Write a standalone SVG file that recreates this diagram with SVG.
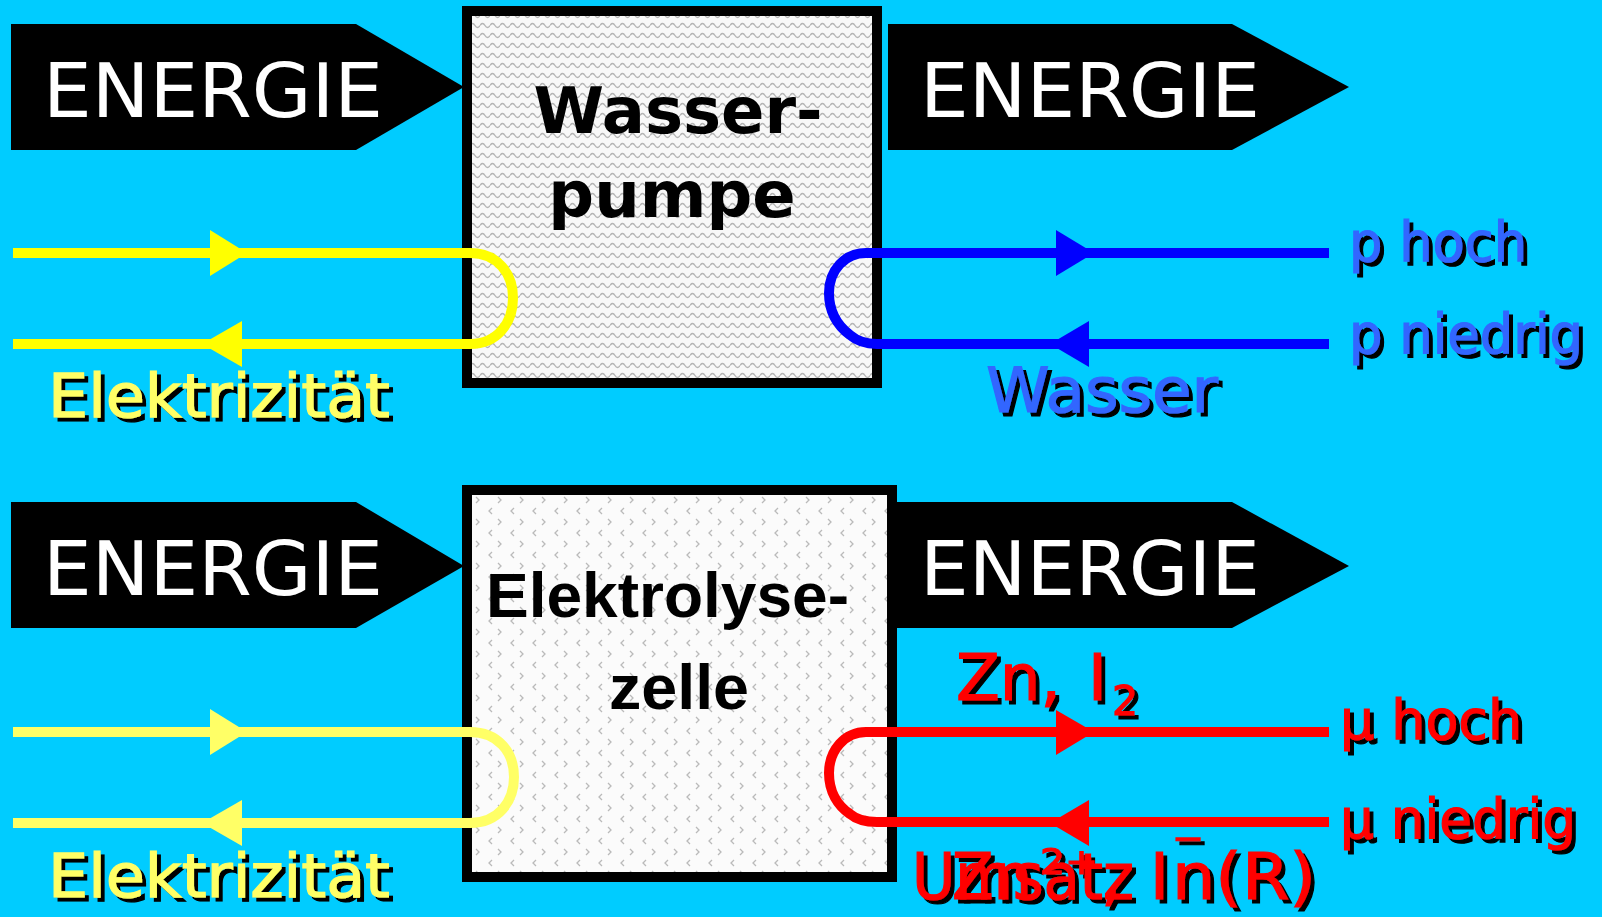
<svg xmlns="http://www.w3.org/2000/svg" width="1602" height="917" viewBox="0 0 1602 917">
<style>
.bg{fill:#00CCFF}
.energy{fill:#000}
.etxt{font-family:"DejaVu Sans","Verdana",sans-serif;font-size:74px;fill:#fff}
.box{stroke:#000;stroke-width:10}
.t1{font-family:"DejaVu Sans",sans-serif;font-weight:bold;font-size:64px;fill:#000;text-anchor:middle}
.t2{font-family:"Liberation Sans",Arial,sans-serif;font-weight:bold;font-size:63px;fill:#000}
.flow{fill:none;stroke-width:10;stroke-linejoin:round}
.lab{font-family:"DejaVu Sans",sans-serif;stroke-width:1.2}
.yel{fill:#FFFF66;stroke:#FFFF66}
.blu{fill:#3366FF;stroke:#3366FF}
.red{fill:#FF0000;stroke:#FF0000}
</style>
<defs>
<pattern id="wave" width="10" height="10" patternUnits="userSpaceOnUse">
<rect width="10" height="10" fill="#f8f8f8"/>
<path d="M0 5.5 Q2.5 1.5 5 5.5 T10 5.5" fill="none" stroke="#b5b5b5" stroke-width="1.4"/>
</pattern>
<pattern id="chev" width="22" height="22" patternUnits="userSpaceOnUse">
<rect width="22" height="22" fill="#fbfbfb"/>
<path d="M8 2 L5 5 L8 8" fill="none" stroke="#bababa" stroke-width="1.3"/>
<path d="M14 13 L17 16 L14 19" fill="none" stroke="#bababa" stroke-width="1.3"/>
</pattern>
<filter id="sh" x="-5%" y="-10%" width="115%" height="130%">
<feOffset in="SourceAlpha" dx="4" dy="4" result="s"/>
<feMerge><feMergeNode in="s"/><feMergeNode in="SourceGraphic"/></feMerge>
</filter>
</defs>
<rect class="bg" x="0" y="0" width="1602" height="917"/>

<g id="energy-in-top">
<path class="energy" d="M11 24 H356 L464 87 L356 150 H11 Z"/>
<text class="etxt" x="43" y="117" textLength="340" lengthAdjust="spacingAndGlyphs">ENERGIE</text>
</g>
<g id="energy-out-top">
<path class="energy" d="M888 24 H1232 L1349 87 L1232 150 H888 Z"/>
<text class="etxt" x="920" y="117" textLength="340" lengthAdjust="spacingAndGlyphs">ENERGIE</text>
</g>
<g id="energy-in-bottom">
<path class="energy" d="M11 502 H356 L464 566 L356 628 H11 Z"/>
<text class="etxt" x="43" y="595" textLength="340" lengthAdjust="spacingAndGlyphs">ENERGIE</text>
</g>
<g id="energy-out-bottom">
<path class="energy" d="M896 502 H1232 L1349 566 L1232 628 H896 Z"/>
<text class="etxt" x="920" y="595" textLength="340" lengthAdjust="spacingAndGlyphs">ENERGIE</text>
</g>

<g id="wasserpumpe">
<rect class="box" x="467" y="11" width="410" height="372" fill="url(#wave)"/>
<text class="t1" x="678" y="133">Wasser-</text>
<text class="t1" x="672" y="217">pumpe</text>
</g>
<g id="elektrolysezelle">
<rect class="box" x="467" y="490" width="425" height="387" fill="url(#chev)"/>
<text class="t2" x="486" y="617" textLength="363" lengthAdjust="spacingAndGlyphs">Elektrolyse-</text>
<text class="t2" x="609" y="709" textLength="140" lengthAdjust="spacingAndGlyphs">zelle</text>
</g>

<g id="connectors">
<path class="flow" stroke="#FFFF00" d="M13 253 H470 C498 253 513 274 513 298 C513 322 498 344 470 344 H13"/>
<polygon fill="#FFFF00" points="210,230 247,253 210,276"/>
<polygon fill="#FFFF00" points="202,344 242,321 242,367"/>
<path class="flow" stroke="#0000FF" d="M1329 253 H866 C845 253 829 270 829 293 C829 312 838 326 850 335 C857 341 866 344 877 344 H1329"/>
<polygon fill="#0000FF" points="1056,230 1094,253 1056,276"/>
<polygon fill="#0000FF" points="1050,344 1089,321 1089,367"/>
<path class="flow" stroke="#FFFF66" d="M13 732 H470 C498 732 514 752 514 777 C514 802 498 823 470 823 H13"/>
<polygon fill="#FFFF66" points="210,709 247,732 210,755"/>
<polygon fill="#FFFF66" points="202,823 242,800 242,846"/>
<path class="flow" stroke="#FF0000" d="M1329 732 H866 C845 732 829 750 829 773 C829 792 838 806 850 814 C857 820 866 822 877 822 H1329"/>
<polygon fill="#FF0000" points="1056,710 1094,732 1056,755"/>
<polygon fill="#FF0000" points="1050,823 1089,800 1089,846"/>
</g>

<g id="labels" filter="url(#sh)">
<text class="lab yel" x="48" y="417" font-size="60" textLength="342" lengthAdjust="spacingAndGlyphs">Elektrizität</text>
<text class="lab yel" x="48" y="897" font-size="60" textLength="342" lengthAdjust="spacingAndGlyphs">Elektrizität</text>
<text class="lab blu" x="986" y="412" font-size="62" textLength="232" lengthAdjust="spacingAndGlyphs">Wasser</text>
<text class="lab blu" x="1349" y="261" font-size="56" textLength="178" lengthAdjust="spacingAndGlyphs">p hoch</text>
<text class="lab blu" x="1349" y="353" font-size="56" textLength="234" lengthAdjust="spacingAndGlyphs">p niedrig</text>
<text class="lab red" x="1340" y="739" font-size="56" textLength="182" lengthAdjust="spacingAndGlyphs">μ hoch</text>
<text class="lab red" x="1340" y="838" font-size="56" textLength="236" lengthAdjust="spacingAndGlyphs">μ niedrig</text>
<text class="lab red" x="956" y="700" font-size="64">Zn,<tspan x="1088">I</tspan><tspan x="1112" dy="15" font-size="41">2</tspan></text>
<text class="lab red" y="899" font-size="64"><tspan x="912" textLength="222" lengthAdjust="spacingAndGlyphs">Umsatz</tspan><tspan x="1172" textLength="144" lengthAdjust="spacingAndGlyphs">n(R)</tspan></text>
<text class="lab red" y="899" font-size="64"><tspan x="952" textLength="80" lengthAdjust="spacingAndGlyphs">Zn</tspan><tspan x="1040" y="874" font-size="36" textLength="58" lengthAdjust="spacingAndGlyphs">2+</tspan><tspan x="1101" y="899">,</tspan><tspan x="1150">I</tspan><tspan x="1172" y="850" font-size="34" textLength="32" lengthAdjust="spacingAndGlyphs">−</tspan></text>
</g>
</svg>
